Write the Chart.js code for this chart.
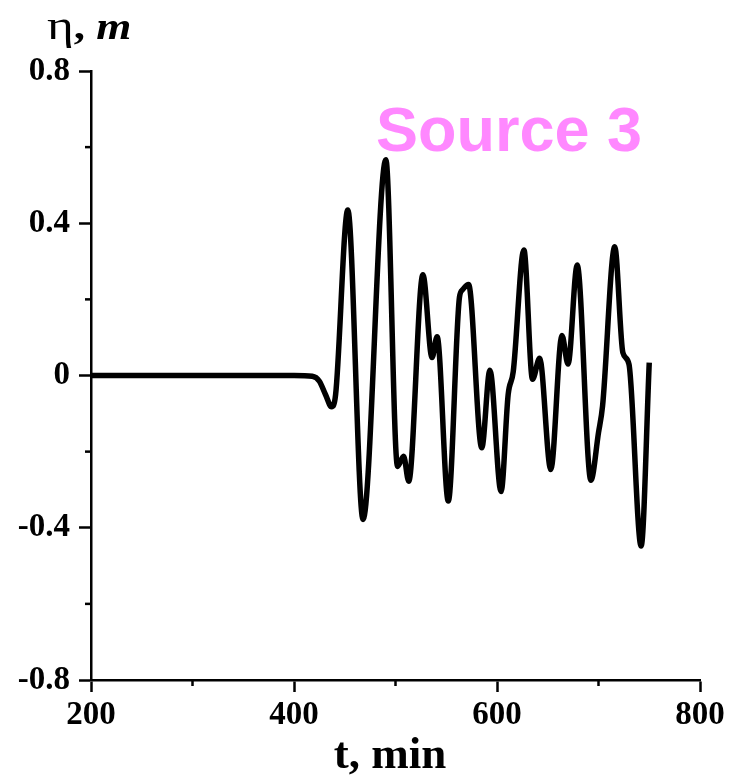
<!DOCTYPE html>
<html>
<head>
<meta charset="utf-8">
<script src="https://cdn.jsdelivr.net/npm/chart.js@4.4.1/dist/chart.umd.min.js"></script>
<style>
  html, body { margin: 0; padding: 0; background: #fff; }
  #wrap { position: relative; width: 749px; height: 784px; }
  .lbl { position: absolute; white-space: nowrap; color: #000; font-family: 'Liberation Serif', serif; }
  #yTitle { left: 47px; top: 1px; font-size: 37px; transform: scaleX(1.22); transform-origin: left top; }
  #yTitle .eta { font-size: 42px; }
  #xTitle { left: 0; width: 784px; top: 727px; font-size: 45px; font-weight: bold; text-align: center; width: 780px; }
  #src { left: 376px; top: 93px; font-family: 'Liberation Sans', Arial, sans-serif; font-size: 63px; font-weight: bold; color: #ff88ff; }
</style>
</head>
<body>
<div id="wrap">
  <canvas id="waveChart" width="749" height="784"></canvas>
  <div class="lbl" id="yTitle"><span class="eta">η</span><b>, <i>m</i></b></div>
  <div class="lbl" id="xTitle">t, min</div>
  <div class="lbl" id="src">Source 3</div>
</div>
<script>
  // time, min
  const times = [200, 400, 418, 425, 431, 437, 441, 453, 468, 490.5, 502, 508, 513, 527, 536, 541,
    552, 563, 566, 572, 585, 593, 604, 611, 616, 626.5, 635, 642, 653, 664, 670, 679, 692.5,
    700, 704, 716, 724, 730, 742, 750];
  // sea level, m
  const eta = [0, 0, -0.002, -0.015, -0.05, -0.082, -0.05, 0.435, -0.378, 0.567, -0.239, -0.212, -0.278, 0.265, 0.047, 0.102,
    -0.33, 0.205, 0.225, 0.239, -0.19, 0.014, -0.305, -0.05, 0.01, 0.33, -0.01, 0.045, -0.247, 0.105, 0.03, 0.29, -0.275,
    -0.15, -0.08, 0.338, 0.06, 0.03, -0.448, 0.034];

  const xMajor = [200, 400, 600, 800];
  const xMinor = [300, 500, 700];
  const yMajor = [-0.8, -0.4, 0, 0.4, 0.8];
  const yMinor = [-0.6, -0.2, 0.2, 0.6];

  const tickFont = { family: 'Liberation Serif', weight: 'bold', size: 33 };

  const isMajor = (list, v) => list.some(m => Math.abs(m - v) < 1e-6);

  // short minor ticks, drawn on the scales
  const minorTicks = {
    id: 'minorTicks',
    afterDraw(chart) {
      const c = chart.ctx;
      const xs = chart.scales.x, ys = chart.scales.y;
      c.save();
      c.strokeStyle = '#000';
      c.lineWidth = 2.5;
      xMinor.forEach(v => {
        const px = xs.getPixelForValue(v);
        c.beginPath(); c.moveTo(px, xs.top); c.lineTo(px, xs.top + 6); c.stroke();
      });
      yMinor.forEach(v => {
        const py = ys.getPixelForValue(v);
        c.beginPath(); c.moveTo(ys.right, py); c.lineTo(ys.right - 6, py); c.stroke();
      });
      c.restore();
    }
  };

  const ctx = document.getElementById('waveChart');
  new Chart(ctx, {
    type: 'line',
    data: {
      datasets: [{
        data: times.map((t, i) => ({ x: t, y: eta[i] })),
        borderColor: '#000',
        borderWidth: 5.5,
        pointRadius: 0,
        cubicInterpolationMode: 'monotone',
        fill: false
      }]
    },
    options: {
      responsive: false,
      animation: false,
      layout: { padding: { top: 71, right: 49, left: 0, bottom: 0 } },
      plugins: { legend: { display: false }, tooltip: { enabled: false } },
      scales: {
        x: {
          type: 'linear',
          min: 200,
          max: 800,
          afterFit: (s) => { s.height = 104; },
          border: { display: true, color: '#000', width: 2.5 },
          grid: {
            drawOnChartArea: false,
            tickLength: 12,
            tickWidth: 2.5,
            tickColor: (c) => (c.tick && isMajor(xMajor, c.tick.value)) ? '#000' : 'rgba(0,0,0,0)'
          },
          ticks: {
            stepSize: 100,
            autoSkip: false,
            maxRotation: 0,
            color: '#000',
            font: tickFont,
            padding: 4,
            callback: (v) => isMajor(xMajor, v) ? String(v) : ''
          }
        },
        y: {
          min: -0.8,
          max: 0.8,
          afterFit: (s) => { s.width = 91; },
          border: { display: true, color: '#000', width: 2.5 },
          grid: {
            drawOnChartArea: false,
            tickLength: 12,
            tickWidth: 2.5,
            tickColor: (c) => (c.tick && isMajor(yMajor, c.tick.value)) ? '#000' : 'rgba(0,0,0,0)'
          },
          ticks: {
            stepSize: 0.2,
            autoSkip: false,
            color: '#000',
            font: tickFont,
            padding: 9,
            callback: (v) => isMajor(yMajor, v) ? String(Math.round(v * 10) / 10) : ''
          }
        }
      }
    },
    plugins: [minorTicks]
  });
</script>
</body>
</html>
